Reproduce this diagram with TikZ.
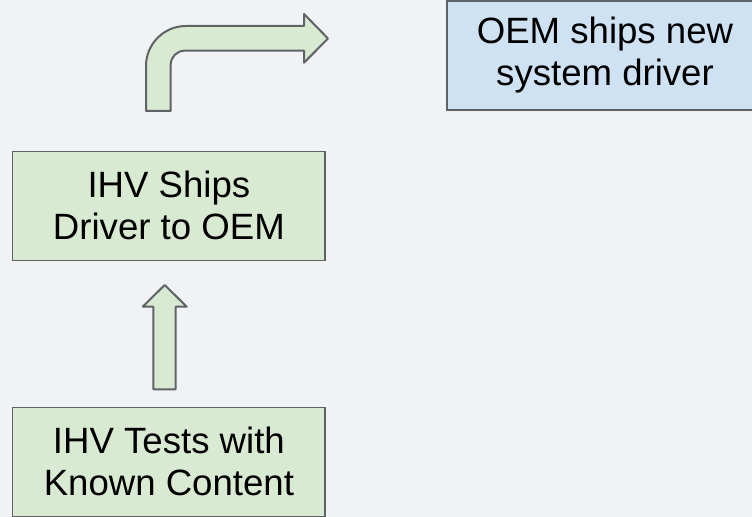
\documentclass[tikz,border=0pt]{standalone}
\usepackage{fontspec}
\setmainfont{Liberation Sans}
\definecolor{bgcol}{HTML}{F1F2F4}
\definecolor{greenfill}{HTML}{D9EAD3}
\definecolor{bluefill}{HTML}{CFE2F3}
\definecolor{edgecol}{HTML}{5F6368}
\tikzset{
  stepbox/.style={draw=edgecol, line width=0.6pt, align=center, inner sep=0pt,
    minimum width=156pt, minimum height=54.5pt,
    font=\fontsize{18.3}{21}\selectfont},
  blockarrow/.style={draw=edgecol, fill=greenfill, line width=1pt, line join=round}
}
\begin{document}
\begin{tikzpicture}[x=0.5pt,y=-0.5pt]
\useasboundingbox (0,0) rectangle (752,517);
\fill[bgcol] (0,0) rectangle (752,517);
\node[stepbox, fill=greenfill] (tests) at (168.9,461.8) {IHV Tests with\\Known Content};
\node[stepbox, fill=greenfill] (ships) at (168.9,205.9) {IHV Ships\\Driver to OEM};
\node[stepbox, fill=bluefill, minimum width=158pt] (oem) at (605,55.5) {OEM ships new\\system driver};
% up arrow
\draw[blockarrow] (153.3,389.3) -- (153.3,306.7) -- (142.7,306.7) -- (164.7,285)
  -- (186.7,306.7) -- (175.7,306.7) -- (175.7,389.3) -- cycle;
% bent arrow
\draw[blockarrow] (146,111) -- (146,66) arc (180:270:40) -- (304,26) -- (304,14)
  -- (328,38.5) -- (304,62.7) -- (304,50.7) -- (184.7,50.7) arc (270:180:14)
  -- (170.7,111) -- cycle;
\end{tikzpicture}
\end{document}
